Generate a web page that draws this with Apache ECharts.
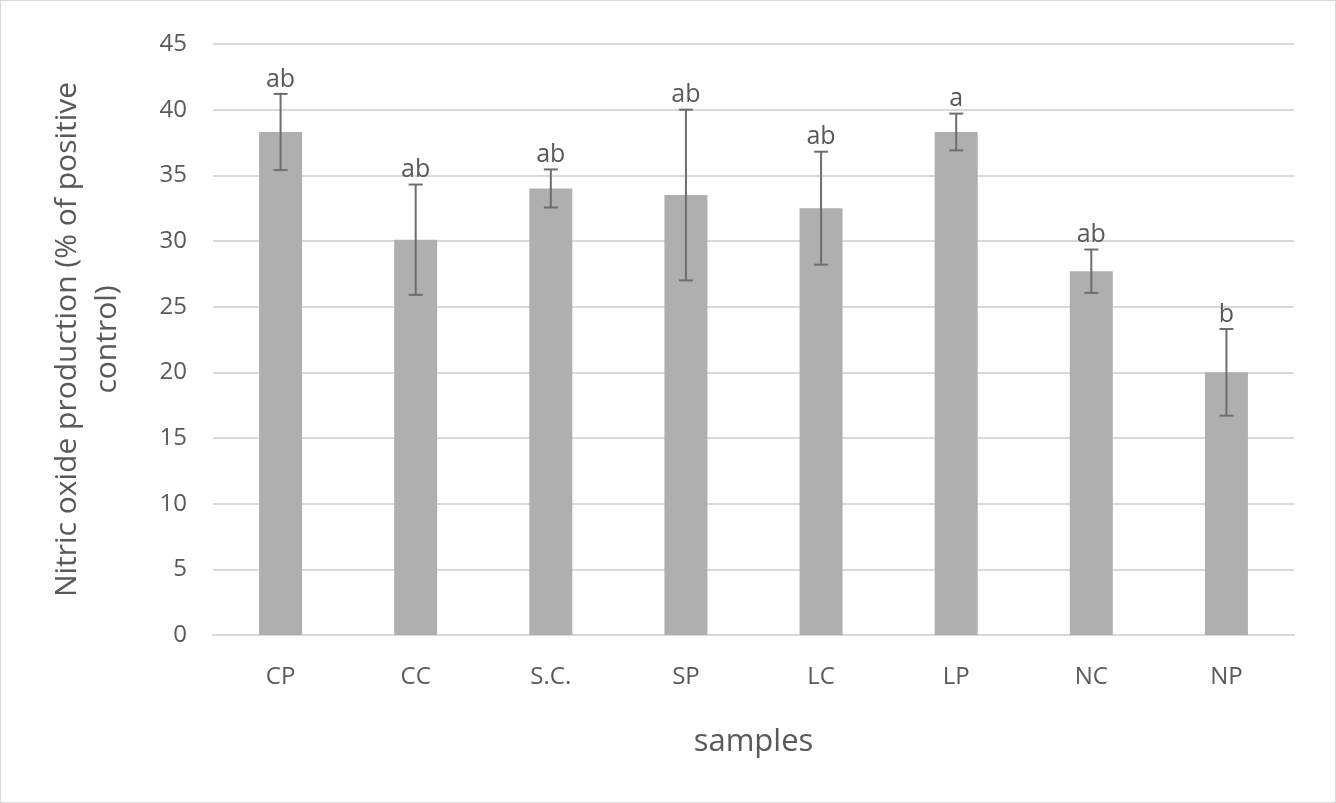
<!DOCTYPE html>
<html>
<head>
<meta charset="utf-8">
<script src="https://cdn.jsdelivr.net/npm/echarts@6/dist/echarts.min.js"></script>
<style>
  html, body { margin: 0; padding: 0; background: #fff; }
  #chart { width: 1334px; height: 801px; border: 1px solid #d9d9d9; }
</style>
</head>
<body>
<div id="chart"></div>
<script>
var categories = ['CP', 'CC', 'S.C.', 'SP', 'LC', 'LP', 'NC', 'NP'];
var means = [38.3, 30.1, 34.0, 33.5, 32.5, 38.3, 27.7, 20.0];
var errors = [2.9, 4.2, 1.45, 6.5, 4.3, 1.4, 1.65, 3.3];
var letters = ['ab', 'ab', 'ab', 'ab', 'ab', 'a', 'ab', 'b'];

var chart = echarts.init(document.getElementById('chart'));
var font = 'Open Sans, Noto Sans, sans-serif';

var errData = means.map(function (m, i) { return [i, m - errors[i], m + errors[i], letters[i]]; });

chart.setOption({
  animation: false,
  grid: { left: 212, right: 41, top: 43, bottom: 167 },
  xAxis: {
    type: 'category',
    data: categories,
    name: 'samples',
    nameLocation: 'middle',
    nameGap: 92,
    nameTextStyle: { fontSize: 31, color: '#595959', fontFamily: font },
    axisLine: { lineStyle: { color: '#d9d9d9', width: 2 } },
    axisTick: { show: false },
    axisLabel: { fontSize: 24, color: '#595959', fontFamily: font, margin: 30 }
  },
  yAxis: {
    type: 'value',
    min: 0, max: 45, interval: 5,
    name: 'Nitric oxide production (% of positive\ncontrol)',
    nameLocation: 'middle',
    nameGap: 86,
    nameTextStyle: { fontSize: 30, color: '#595959', fontFamily: font, lineHeight: 40 },
    axisLine: { show: false },
    axisTick: { show: false },
    axisLabel: { fontSize: 24, color: '#595959', fontFamily: font, margin: 26 },
    splitLine: { lineStyle: { color: '#d9d9d9', width: 2 } }
  },
  series: [
    {
      type: 'bar',
      data: means,
      barWidth: 43,
      itemStyle: { color: '#afafaf' }
    },
    {
      type: 'custom',
      data: errData,
      z: 10,
      renderItem: function (params, api) {
        var x = api.coord([api.value(0), 0])[0];
        var lo = api.coord([api.value(0), api.value(1)])[1];
        var hi = api.coord([api.value(0), api.value(2)])[1];
        var style = { stroke: '#6d6d6d', lineWidth: 2 };
        return {
          type: 'group',
          children: [
            { type: 'line', shape: { x1: x, y1: lo, x2: x, y2: hi }, style: style },
            { type: 'line', shape: { x1: x - 7, y1: lo, x2: x + 7, y2: lo }, style: style },
            { type: 'line', shape: { x1: x - 7, y1: hi, x2: x + 7, y2: hi }, style: style },
            { type: 'text', style: { x: x, y: hi - 2, text: letters[params.dataIndex], align: 'center', verticalAlign: 'bottom', fontSize: 25, fill: '#595959', fontFamily: font } }
          ]
        };
      }
    }
  ]
});
</script>
</body>
</html>
